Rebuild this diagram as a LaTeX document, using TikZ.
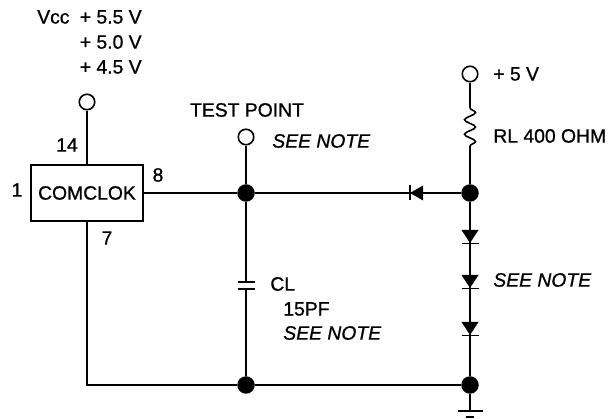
\documentclass[tikz,border=0pt]{standalone}
\usepackage{fontspec}
\setmainfont{Liberation Sans}[RawFeature={embolden=0.9}]
\usepackage{tikz}
\usetikzlibrary{decorations.pathmorphing}
\tikzset{
	wire/.style={line width=.9pt},
	pad/.style={circle, draw, line width=.9pt, fill=white, minimum size=.31cm, inner sep=0},
	dot/.style={circle, fill=black, minimum size=.35cm, inner sep=0},
	lbl/.style={inner sep=0, font=\fontsize{11}{13}\selectfont},
	note/.style={lbl, font=\fontsize{11}{13}\selectfont\itshape, anchor=west},
}

\begin{document}
\begin{tikzpicture}
		\useasboundingbox (0, 0) rectangle (12.28, 8.38);

		\node[draw, wire, lbl, minimum width=2.24cm, minimum height=1.12cm] (comclok) at (1.74, 4.52) {COMCLOK};

		\node[pad] (vcc) at (1.74, 6.34) {};
		\node[pad] (testpt) at (4.92, 5.64) {};
		\node[pad] (plus) at (9.40, 6.90) {};

		\node[dot] (topl) at (4.92, 4.52) {};
		\node[dot] (topr) at (9.40, 4.52) {};
		\node[dot] (botl) at (4.92, .68) {};
		\node[dot] (botr) at (9.40, .68) {};

		\coordinate (rtop) at (9.40, 6.22);
		\coordinate (rbot) at (9.40, 5.34);
		\coordinate (capt) at (4.92, 2.74);
		\coordinate (capb) at (4.92, 2.60);
		\coordinate (gnd) at (9.40, .16);

		\draw[wire] (vcc) -- (comclok.north);
		\draw[wire] (comclok.east) -- (topl);
		\draw[wire] (comclok.south) |- (botl);
		\draw[wire] (testpt) -- (topl);
		\draw[wire] (topl) -- (topr);
		\draw[wire] (botl) -- (botr);
		\draw[wire] (topl) -- (capt);
		\draw[wire] (capb) -- (botl);
		\draw[wire] (plus) -- (rtop);
		\draw[wire, decorate, decoration={snake, segment length=.29cm, amplitude=.11cm}] (rtop) -- (rbot);
		\draw[wire] (rbot) -- (topr);
		\draw[wire] (topr) -- (botr);
		\draw[wire] (botr) -- (gnd);

		% plates and ground
		\draw[wire] (4.75, 2.74) -- (5.09, 2.74);
		\draw[wire] (4.75, 2.60) -- (5.09, 2.60);
		\draw[wire] (9.15, .16) -- (9.65, .16);
		\draw[wire] (9.32, .04) -- (9.48, .04);

		\foreach \y in {3.78, 2.88, 1.94}
			{
				\fill[yshift=\y cm] (9.23, 0) -- (9.57, 0) -- (9.40, -.26) -- cycle;
				\draw[wire, yshift=\y cm] (9.23, -.27) -- (9.57, -.27);
			}

		\fill (8.46, 4.67) -- (8.46, 4.37) -- (8.20, 4.52) -- cycle;
		\draw[wire] (8.20, 4.37) -- (8.20, 4.67);

		\node[lbl, anchor=east] (vhigh) at (2.84, 8.04) {Vcc\hspace{.1cm} + 5.5 V};
		\node[lbl, anchor=east] (vmid) at (2.84, 7.54) {+ 5.0 V};
		\node[lbl, anchor=east] (vlow) at (2.84, 7.04) {+ 4.5 V};
		\node[lbl] (pin14) at (1.34, 5.48) {14};
		\node[lbl] (pin8) at (3.16, 4.88) {8};
		\node[lbl] (pin1) at (.34, 4.58) {1};
		\node[lbl] (pin7) at (2.14, 3.62) {7};
		\node[lbl] (testlbl) at (4.94, 6.18) {TEST POINT};
		\node[note] (testnote) at (5.44, 5.56) {SEE NOTE};
		\node[lbl, anchor=west] (pluslbl) at (9.86, 6.90) {+ 5 V};
		\node[lbl, anchor=west] (rlbl) at (9.86, 5.66) {RL 400 OHM};
		\node[note] (dionote) at (9.86, 2.78) {SEE NOTE};
		\node[lbl, anchor=west] (cllbl) at (5.40, 2.70) {CL};
		\node[lbl, anchor=west] (pflbl) at (5.66, 2.20) {15PF};
		\node[note] (capnote) at (5.66, 1.72) {SEE NOTE};

	\end{tikzpicture}
\end{document}
